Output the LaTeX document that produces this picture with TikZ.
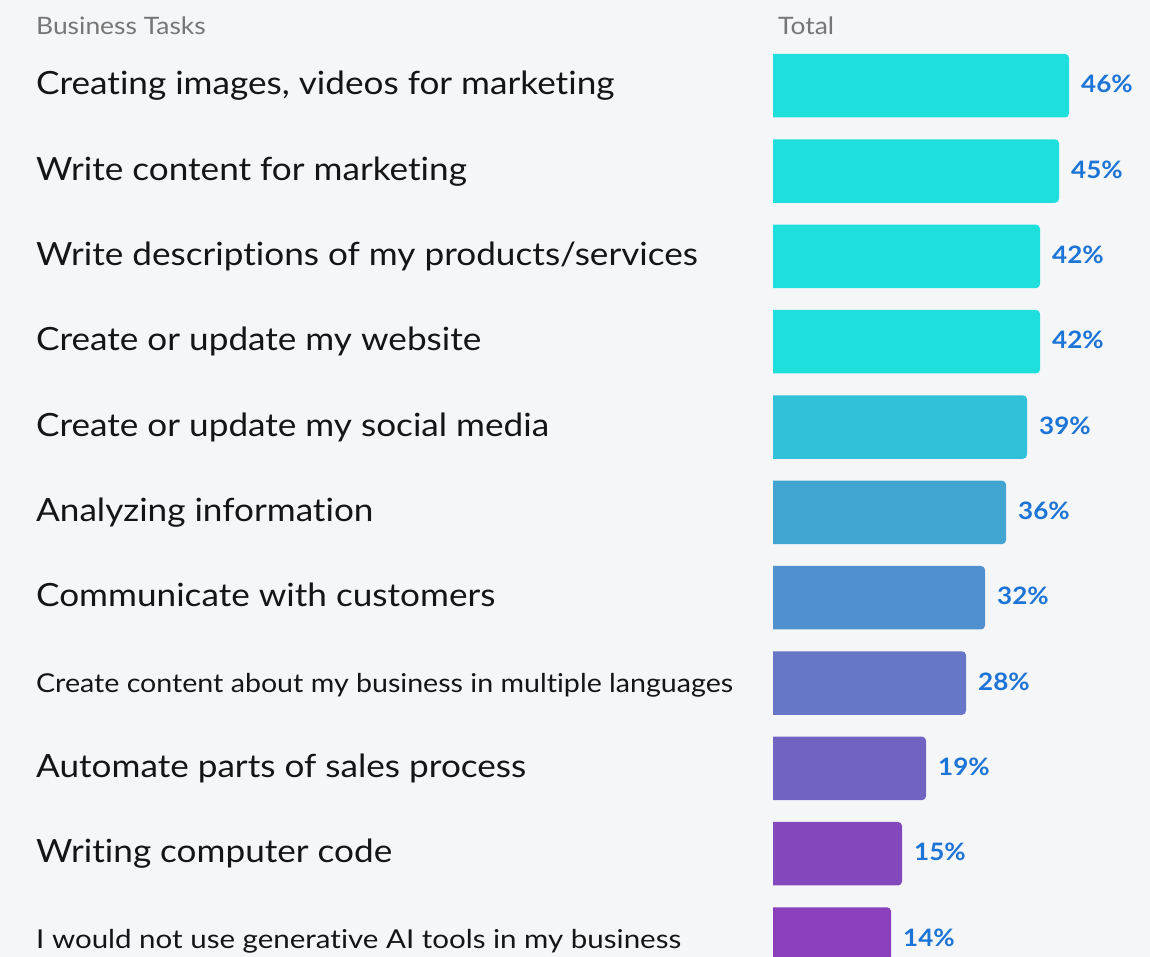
\documentclass[tikz,border=0pt]{standalone}
\usepackage{fontspec}
\setmainfont{Lato}[FakeStretch=1.098,Ligatures=NoCommon]
\newfontfamily\stA{Lato}[FakeStretch=1.10,Ligatures=NoCommon]
\newfontfamily\stB{Lato}[FakeStretch=1.135,Ligatures=NoCommon]
\newfontfamily\stP{Lato}[FakeStretch=1.085,Ligatures=NoCommon]
\definecolor{bg}{HTML}{F5F6F8}
\definecolor{hdr}{HTML}{767676}
\definecolor{txt}{HTML}{151515}
\definecolor{pctc}{HTML}{1C74D6}
\definecolor{c1}{HTML}{1EDFDC}
\definecolor{c5}{HTML}{31C1D9}
\definecolor{c6}{HTML}{42A5D1}
\definecolor{c7}{HTML}{5190CE}
\definecolor{c8}{HTML}{6677C8}
\definecolor{c9}{HTML}{7063C2}
\definecolor{c10}{HTML}{8348BC}
\definecolor{c11}{HTML}{8940BA}
\newcommand\barrow[6]{%
  \pgfmathsetmacro\yt{957-54-(#1-1)*85.33}%
  \pgfmathsetmacro\yb{\yt-63.5}%
  \pgfmathsetmacro\yc{\yt-31.75}%
  \fill[#3] (773,\yt) -- (#2-4,\yt) arc[start angle=90,end angle=0,radius=4] -- (#2,\yb+4) arc[start angle=0,end angle=-90,radius=4] -- (773,\yb) -- cycle;
  \node[lbl,font=#6] (l#1) at (36,\yc-9) {#5};
  \node[pct] (p#1) at (#2+12,\yc-7) {#4};
}
\begin{document}
\begin{tikzpicture}[x=1pt,y=1pt,
  lbl/.style={anchor=base west,inner sep=0,text=txt},
  pct/.style={anchor=base west,inner sep=0,text=pctc,font=\stP\fontsize{24}{28}\selectfont\bfseries},
  head/.style={anchor=base west,inner sep=0,text=hdr,font=\stA\fontsize{24}{28}\selectfont}]
\fill[bg] (0,0) rectangle (1150,957);
\useasboundingbox (0,0) rectangle (1150,957);
\clip (0,0) rectangle (1150,957);
\node[head] (h1) at (36,922) {Business Tasks};
\node[head] (h2) at (778,922) {Total};
\barrow{1}{1069}{c1}{46\%}{Creating images, videos for marketing}{\fontsize{32}{36}\selectfont}
\barrow{2}{1059}{c1}{45\%}{Write content for marketing}{\fontsize{32}{36}\selectfont}
\barrow{3}{1040}{c1}{42\%}{Write descriptions of my products/services}{\fontsize{32}{36}\selectfont}
\barrow{4}{1040}{c1}{42\%}{Create or update my website}{\fontsize{32}{36}\selectfont}
\barrow{5}{1027}{c5}{39\%}{Create or update my social media}{\fontsize{32}{36}\selectfont}
\barrow{6}{1006}{c6}{36\%}{Analyzing information}{\fontsize{32}{36}\selectfont}
\barrow{7}{985}{c7}{32\%}{Communicate with customers}{\fontsize{32}{36}\selectfont}
\barrow{8}{966}{c8}{28\%}{Create content about my business in multiple languages}{\stA\fontsize{26}{30}\selectfont}
\barrow{9}{926}{c9}{19\%}{Automate parts of sales process}{\fontsize{32}{36}\selectfont}
\barrow{10}{902}{c10}{15\%}{Writing computer code}{\fontsize{32}{36}\selectfont}
\barrow{11}{891}{c11}{14\%}{I would not use generative AI tools in my business}{\stB\fontsize{26}{30}\selectfont}
\end{tikzpicture}
\end{document}
